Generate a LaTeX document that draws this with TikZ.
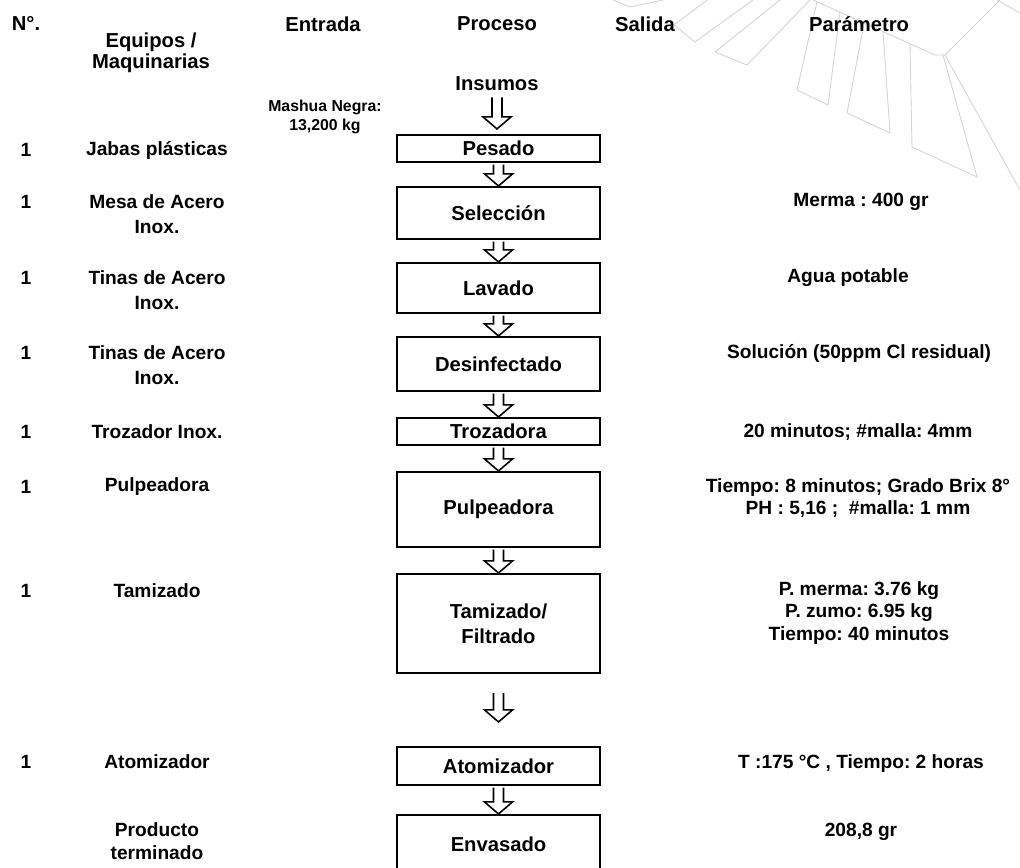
\documentclass[tikz,border=0pt]{standalone}
\usepackage{fontspec}
\setmainfont{Liberation Sans}
\usepackage{tikz}
\usetikzlibrary{calc}
\frenchspacing

\tikzset{
  encab/.style={font=\fontsize{11.5}{10.5}\selectfont\bfseries, align=center},
  texto/.style={font=\fontsize{10.9}{13}\selectfont\bfseries, align=center},
  etapa/.style={draw, line width=1.2pt, minimum width=4.06cm, inner sep=0pt,
    font=\fontsize{11.5}{14.2}\selectfont\bfseries, align=center},
  flecha/.style={draw, line width=0.9pt, fill=white, line join=miter},
  marca/.style={draw=black!17, line width=0.5pt}
}

% flecha hueca: nodo origen, nodo destino, hueco arriba, hueco abajo
\newcommand{\flecha}[4]{%
  \draw[flecha] let \p1=($(#1.south)+(0,-#3)$), \p2=($(#2.north)+(0,#4)$) in
    (\x1-1mm,\y1) -- (\x1-1mm,\y2+2.4mm) -- (\x1-2.8mm,\y2+2.4mm) -- (\x1,\y2)
    -- (\x1+2.8mm,\y2+2.4mm) -- (\x1+1mm,\y2+2.4mm) -- (\x1+1mm,\y1);}

\begin{document}
\begin{tikzpicture}
	\useasboundingbox (0,0) rectangle (20.4,-17.36);
	\clip (0,0) rectangle (20.4,-17.36);

	% marca de agua
	\draw[marca] (12.26,0) -- (12.6,-0.14) -- (13.26,0);
	\draw[marca] (14.14,0) -- (13.48,-0.5) -- (13.9,-0.84) -- (15.06,0);
	\draw[marca] (15.6,0) -- (14.3,-1.04) -- (14.94,-1.3) -- (16.2,0);
	\draw[marca] (16.26,0) -- (18.7,-1.1) -- (18.9,-1.1) -- (20.0,0);
	\draw[marca] (16.34,-0.04) -- (15.94,-1.8) -- (16.56,-2.1) -- (16.8,-0.24);
	\draw[marca] (17.28,-0.48) -- (16.94,-2.26) -- (17.8,-2.66) -- (17.66,-0.62);
	\draw[marca] (18.2,-0.88) -- (18.24,-2.94) -- (19.54,-3.54) -- (18.86,-1.1);
	\draw[marca] (18.9,-1.1) -- (20.4,-3.8);
	\draw[marca] (19.94,0) -- (20.4,-0.26);

	% encabezados
	\node[encab] (hNum) at (0.52,-0.46) {N°.};
	\node[encab] (hEquipo) at (3.02,-1.06) {Equipos /\\Maquinarias};
	\node[encab] (hEntrada) at (6.46,-0.48) {Entrada};
	\node[encab] (hProceso) at (9.94,-0.48) {Proceso};
	\node[encab] (hSalida) at (12.9,-0.48) {Salida};
	\node[encab] (hParam) at (17.18,-0.48) {Parámetro};

	% entrada
	\node[encab] (insumos) at (9.94,-1.68) {Insumos};
	\node[font=\fontsize{9}{11}\selectfont\bfseries, align=center] (mashua) at (6.5,-2.34) {Mashua Negra:\\13,200 kg};

	% proceso
	\node[etapa, minimum height=0.54cm] (pesado) at (9.97,-2.97) {Pesado};
	\node[etapa, minimum height=1.04cm] (seleccion) at (9.97,-4.26) {Selección};
	\node[etapa, minimum height=1.0cm] (lavado) at (9.97,-5.76) {Lavado};
	\node[etapa, minimum height=1.08cm] (desinf) at (9.97,-7.28) {Desinfectado};
	\node[etapa, minimum height=0.54cm] (trozado) at (9.97,-8.63) {Trozadora};
	\node[etapa, minimum height=1.5cm] (pulpeo) at (9.97,-10.19) {Pulpeadora};
	\node[etapa, minimum height=1.98cm] (tamizado) at (9.97,-12.47) {Tamizado/\\Filtrado};
	\node[etapa, minimum height=0.76cm] (atomiz) at (9.97,-15.32) {Atomizador};
	\node[etapa, minimum height=1.16cm] (envasado) at (9.97,-16.88) {Envasado};

	\flecha{insumos}{pesado}{0}{0.1}
	\flecha{pesado}{seleccion}{0.03}{0}
	\flecha{seleccion}{lavado}{0.03}{0}
	\flecha{lavado}{desinf}{0.03}{0}
	\flecha{desinf}{trozado}{0.03}{0}
	\flecha{trozado}{pulpeo}{0.03}{0}
	\flecha{pulpeo}{tamizado}{0.03}{0}
	\flecha{tamizado}{atomiz}{0.38}{0.48}
	\flecha{atomiz}{envasado}{0.03}{0}

	% numero de equipos
	\foreach \y [count=\i] in {-3.0,-4.04,-5.56,-7.06,-8.64,-9.74,-11.82,-15.24}
		\node[texto] (num\i) at (0.52,\y) {1};

	% equipos / maquinarias
	\node[texto] (eq1) at (3.14,-3.0) {Jabas plásticas};
	\node[texto] (eq2) at (3.14,-4.29) {Mesa de Acero\\[1.2pt]Inox.};
	\node[texto] (eq3) at (3.14,-5.8) {Tinas de Acero\\[1.2pt]Inox.};
	\node[texto] (eq4) at (3.14,-7.3) {Tinas de Acero\\[1.2pt]Inox.};
	\node[texto] (eq5) at (3.14,-8.64) {Trozador Inox.};
	\node[texto] (eq6) at (3.14,-9.74) {Pulpeadora};
	\node[texto] (eq7) at (3.14,-11.82) {Tamizado};
	\node[texto] (eq8) at (3.14,-15.24) {Atomizador};
	\node[texto] (eq9) at (3.14,-16.83) {Producto\\terminado};

	% parametros
	\node[texto] (par1) at (17.22,-4.04) {Merma : 400 gr};
	\node[texto] (par2) at (16.96,-5.56) {Agua potable};
	\node[texto] (par3) at (17.18,-7.06) {Solución (50ppm Cl residual)};
	\node[texto] (par4) at (17.16,-8.64) {20 minutos; \#malla: 4mm};
	\node[texto] (par5) at (17.16,-9.96) {Tiempo: 8 minutos; Grado Brix 8°\\PH : 5,16 ;\ \ \#malla: 1 mm};
	\node[texto] (par6) at (17.18,-12.26) {P. merma: 3.76 kg\\P. zumo: 6.95 kg\\Tiempo: 40 minutos};
	\node[texto] (par7) at (17.22,-15.28) {T :175 °C , Tiempo: 2 horas};
	\node[texto] (par8) at (17.22,-16.64) {208,8 gr};
\end{tikzpicture}
\end{document}
